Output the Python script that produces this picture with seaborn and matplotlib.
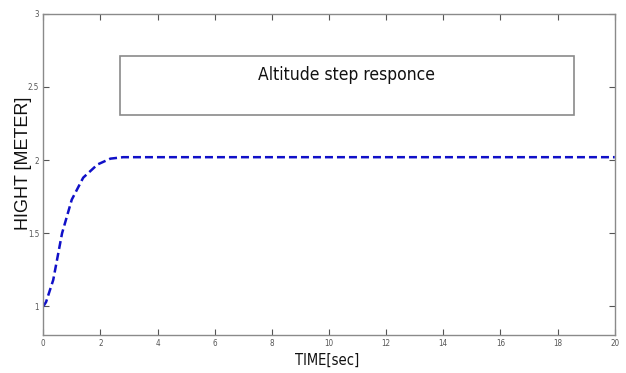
import matplotlib
matplotlib.use("Agg")
import matplotlib.pyplot as plt
import seaborn as sns
import pandas as pd
from matplotlib.patches import Rectangle

# Step response samples of the altitude loop
time_sec = [0.0, 0.1, 0.35, 0.66, 1.0, 1.4, 1.9, 2.35, 2.8, 4, 6, 8, 10, 12, 14, 16, 18, 20]
height_m = [1.0, 1.03, 1.18, 1.5, 1.73, 1.88, 1.97, 2.01, 2.02, 2.02, 2.02, 2.02,
            2.02, 2.02, 2.02, 2.02, 2.02, 2.02]

x_ticks = [0, 2, 4, 6, 8, 10, 12, 14, 16, 18, 20]
y_ticks = [1, 1.5, 2, 2.5, 3]
y_tick_labels = ["1", "1.5", "2", "2.5", "3"]

title_text = "Altitude step responce"
x_label = "TIME[sec]"
y_label = "HIGHT [METER]"

sns.set_style("ticks")
narrow = dict(family="DejaVu Sans", fontstretch="condensed")

df = pd.DataFrame({"t": time_sec, "h": height_m})

fig = plt.figure(figsize=(6.26, 3.73), dpi=100)
ax = fig.add_axes([0.069, 0.102, 0.913, 0.861])

sns.lineplot(data=df, x="t", y="h", ax=ax, color="#1010c8", linewidth=1.8,
             linestyle=(0, (3.2, 1.6)), estimator=None)

ax.set_xlim(0, 20)
ax.set_ylim(0.805, 3.0)
ax.set_xticks(x_ticks)
ax.set_xticklabels([str(v) for v in x_ticks], fontsize=5.8, color="#555555", **narrow)
ax.set_yticks(y_ticks)
ax.set_yticklabels(y_tick_labels, fontsize=5.8, color="#555555", **narrow)
ax.tick_params(direction="in", length=4, width=0.8, color="#555555",
               top=True, right=True, pad=3)

for side in ["left", "right", "top", "bottom"]:
    ax.spines[side].set_visible(True)
    ax.spines[side].set_color("#8a8a8a")
    ax.spines[side].set_linewidth(1.0)

ax.set_xlabel(x_label, fontsize=10.5, color="#111111", **narrow)
ax.xaxis.set_label_coords(0.497, -0.055)
ax.set_ylabel(y_label, fontsize=13.0, family=["Liberation Sans", "DejaVu Sans"],
              color="#111111", va="center")
ax.yaxis.set_label_coords(-0.034, 0.533)

# Framed caption inside the plot area
ax.add_patch(Rectangle((2.69, 2.31), 15.9, 0.40, fill=False,
                       edgecolor="#8a8a8a", linewidth=1.2, zorder=3))
ax.text(10.6, 2.585, title_text, ha="center", va="center", fontsize=12.5,
        color="#111111", zorder=4, **narrow)

fig.savefig("out.png", dpi=100)
